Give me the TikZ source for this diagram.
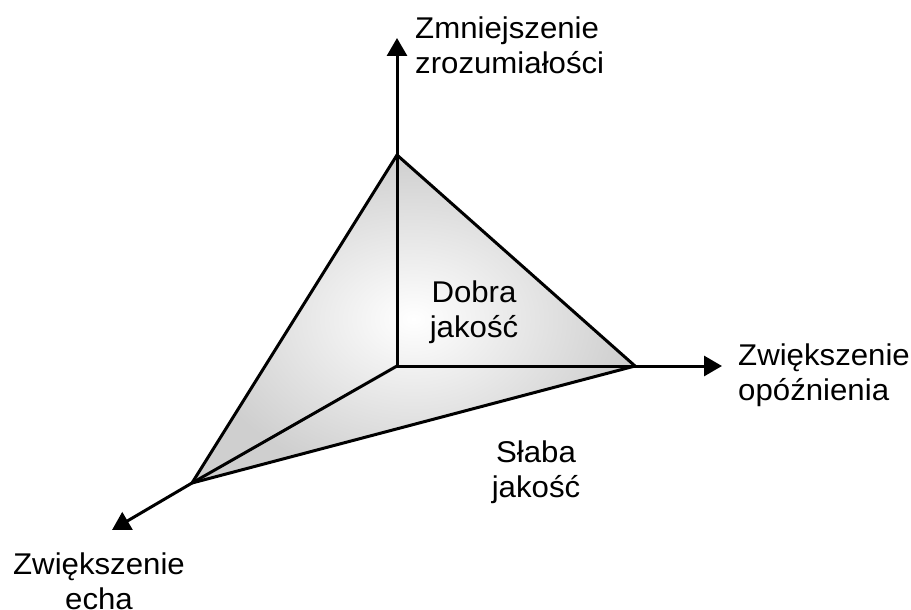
\documentclass[tikz,border=0pt]{standalone}
\usepackage{fontspec}
\setmainfont{Liberation Sans}
\usetikzlibrary{arrows.meta}
\begin{document}
\begin{tikzpicture}[x=1pt,y=-1pt,
  edge/.style={line width=3pt,line join=miter},
  axis/.style={line width=3pt,-{Triangle[length=18pt,width=20pt]}},
  lbl/.style={font=\fontsize{30}{34.5}\selectfont,align=center,inner sep=0pt,anchor=north,xscale=1.04},
  lbll/.style={font=\fontsize{30}{34.5}\selectfont,align=left,inner sep=0pt,anchor=north west,xscale=1.04}]
\useasboundingbox (0,0) rectangle (911,610);
\coordinate (O) at (397,366);
\coordinate (T) at (397,155);
\coordinate (R) at (635,366);
\coordinate (B) at (192,483);
\coordinate (TA) at (397,38);
\coordinate (RA) at (722,366);
\coordinate (BA) at (112,530);
\shade[inner color=white,outer color=gray!38] (T) -- (R) -- (B) -- cycle;
\draw[axis] (T) -- (TA);
\draw[axis] (R) -- (RA);
\draw[axis] (B) -- (BA);
\draw[edge] (T) -- (R) -- (B) -- cycle;
\draw[edge] (T) -- (O) -- (R);
\draw[edge] (O) -- (B);
\node[lbll] (zz) at (415,17) {Zmniejszenie\\zrozumiałości};
\node[lbll] (zo) at (738,344) {Zwiększenie\\opóźnienia};
\node[lbl] (ze) at (99,553) {Zwiększenie\\echa};
\node[lbl] (dj) at (474,281) {Dobra\\jakość};
\node[lbl] (sj) at (536,441) {Słaba\\jakość};
\end{tikzpicture}
\end{document}
